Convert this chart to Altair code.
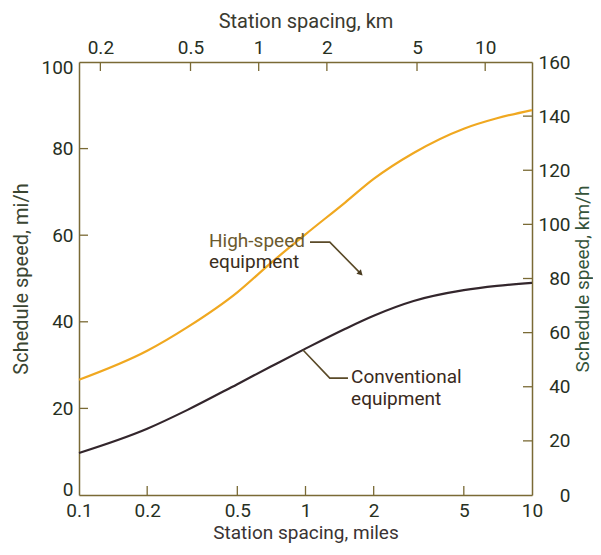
import altair as alt
import pandas as pd

# --- data ---
spacing_mi = [0.1, 0.2, 0.3, 0.5, 0.7, 1.0, 1.5, 2.0, 3.0, 5.0, 7.0, 10.0]
high_speed_mph = [26.6, 33.3, 38.7, 46.8, 53.5, 60.2, 67.6, 73.0, 79.0, 84.6, 87.0, 88.9]
conventional_mph = [9.7, 15.3, 19.6, 25.6, 29.6, 33.8, 38.4, 41.4, 44.8, 47.3, 48.3, 49.0]

bottom_ticks = [0.1, 0.2, 0.5, 1, 2, 5, 10]
top_ticks_km = [0.2, 0.5, 1, 2, 5, 10]
left_ticks = [0, 20, 40, 60, 80, 100]
right_ticks_kmh = [0, 20, 40, 60, 80, 100, 120, 140, 160]

# annotation text (data units: miles, mi/h)
hs_label = ["High-speed", "equipment"]
hs_label_mi = [0.375, 0.375]
hs_label_mph = [58.6, 53.7]
hs_leader_mi = [1.047, 1.28, 1.74]
hs_leader_mph = [58.4, 58.4, 51.3]

cv_label = ["Conventional", "equipment"]
cv_label_mi = [1.59, 1.59]
cv_label_mph = [27.2, 22.2]
cv_leader_mi = [0.975, 1.28, 1.54]
cv_leader_mph = [33.5, 27.0, 27.0]

W, H = 453, 433
FONT = "Roboto"
AXIS_COL = "#7a6a35"
LABEL_COL = "#27301f"

curves = pd.DataFrame({
    "mi": spacing_mi * 2,
    "mph": high_speed_mph + conventional_mph,
    "series": ["High-speed equipment"] * len(spacing_mi) + ["Conventional equipment"] * len(spacing_mi),
})

x_mi = alt.X("mi:Q",
             scale=alt.Scale(type="log", domain=[0.1, 10], nice=False),
             axis=alt.Axis(values=bottom_ticks, format="~g", orient="bottom",
                           title="Station spacing, miles", tickSize=0,
                           labelPadding=6, titlePadding=3, labelFlush=False,
                           titleFontSize=19,
                           grid=False, titleColor="#3a3333"))
y_mph = alt.Y("mph:Q",
              scale=alt.Scale(domain=[0, 100], nice=False),
              axis=alt.Axis(values=left_ticks, orient="left",
                            title="Schedule speed, mi/h", tickSize=0,
                            labelPadding=6, titlePadding=9, grid=False,
                            labelFlush=True, labelFlushOffset=4,
                            titleColor="#3a4532"))

line_layer = alt.Chart(curves).mark_line(strokeWidth=2.2, interpolate="monotone").encode(
    x=x_mi, y=y_mph,
    color=alt.Color("series:N",
                    scale=alt.Scale(domain=["High-speed equipment", "Conventional equipment"],
                                    range=["#f0a820", "#33262c"]),
                    legend=None),
)

bt = pd.DataFrame({"mi": [v for v in bottom_ticks if 0.1 < v < 10]})
bottom_tick_layer = alt.Chart(bt).mark_rule(color=AXIS_COL, strokeWidth=1.3).encode(
    x=x_mi, y=alt.value(H), y2=alt.value(H - 9))

lt = pd.DataFrame({"mph": [v for v in left_ticks if 0 < v < 100]})
left_tick_layer = alt.Chart(lt).mark_rule(color=AXIS_COL, strokeWidth=1.3).encode(
    y=y_mph, x=alt.value(0), x2=alt.value(9))

hs_leader = pd.DataFrame({"mi": hs_leader_mi, "mph": hs_leader_mph, "o": [0, 1, 2]})
cv_leader = pd.DataFrame({"mi": cv_leader_mi, "mph": cv_leader_mph, "o": [0, 1, 2]})
hs_leader_layer = alt.Chart(hs_leader).mark_line(color="#5a4a28", strokeWidth=1.6).encode(
    x=x_mi, y=y_mph, order="o:Q")
cv_leader_layer = alt.Chart(cv_leader).mark_line(color="#5a4a28", strokeWidth=1.6).encode(
    x=x_mi, y=y_mph, order="o:Q")
arrow = pd.DataFrame({"mi": [hs_leader_mi[-1]], "mph": [hs_leader_mph[-1]]})
arrow_layer = alt.Chart(arrow).mark_point(shape="triangle", filled=True, size=40,
                                          angle=135, color="#4a3c20", opacity=1).encode(
    x=x_mi, y=y_mph)

labels = pd.DataFrame({
    "mi": hs_label_mi + cv_label_mi,
    "mph": hs_label_mph + cv_label_mph,
    "t": hs_label + cv_label,
    "c": ["#6b5a2e", "#3a2e1c", "#3a2a20", "#3a2a20"],
})
text_layer = alt.Chart(labels).mark_text(align="left", baseline="middle", fontSize=19,
                                         font=FONT).encode(
    x=x_mi, y=y_mph, text="t:N", color=alt.Color("c:N", scale=None))

mi_group = alt.layer(line_layer, hs_leader_layer, cv_leader_layer, arrow_layer,
                     text_layer, bottom_tick_layer, left_tick_layer)

# --- metric (km) axes: top and right ---
x_km = alt.X("km:Q",
             scale=alt.Scale(type="log", domain=[0.160934, 16.0934], nice=False),
             axis=alt.Axis(values=top_ticks_km, format="~g", orient="top",
                           title="Station spacing, km", tickSize=0,
                           labelPadding=5, titlePadding=7, labelFlush=False,
                           grid=False, titleColor="#3a3a30"))
y_kmh = alt.Y("kmh:Q",
              scale=alt.Scale(domain=[0, 160], nice=False),
              axis=alt.Axis(values=right_ticks_kmh, orient="right",
                            title="Schedule speed, km/h", tickSize=0,
                            labelAlign="right", labelPadding=38,
                            titleAngle=270, titleBaseline="top",
                            titlePadding=3, titleFontSize=19, grid=False,
                            titleColor="#35533a"))

tt = pd.DataFrame({"km": top_ticks_km})
top_tick_layer = alt.Chart(tt).mark_rule(color=AXIS_COL, strokeWidth=1.3).encode(
    x=x_km, y=alt.value(0), y2=alt.value(9))
rt = pd.DataFrame({"kmh": [v for v in right_ticks_kmh if 0 < v < 160]})
right_tick_layer = alt.Chart(rt).mark_rule(color=AXIS_COL, strokeWidth=1.3).encode(
    y=y_kmh, x=alt.value(W), x2=alt.value(W - 9))

km_group = alt.layer(top_tick_layer, right_tick_layer)

chart = alt.layer(mi_group, km_group).resolve_scale(
    x="independent", y="independent"
).properties(
    width=W, height=H,
    autosize="none",
    background="white",
    padding={"left": 71, "top": 54, "right": 61, "bottom": 52},
).configure(font=FONT).configure_view(stroke=None).configure_axis(
    domainColor=AXIS_COL, domainWidth=1.5,
    labelFont=FONT, titleFont=FONT,
    labelFontSize=19, titleFontSize=20,
    labelColor=LABEL_COL,
    titleFontWeight="normal",
)

chart.save("out.html", embed_options={"renderer": "svg", "actions": False})
